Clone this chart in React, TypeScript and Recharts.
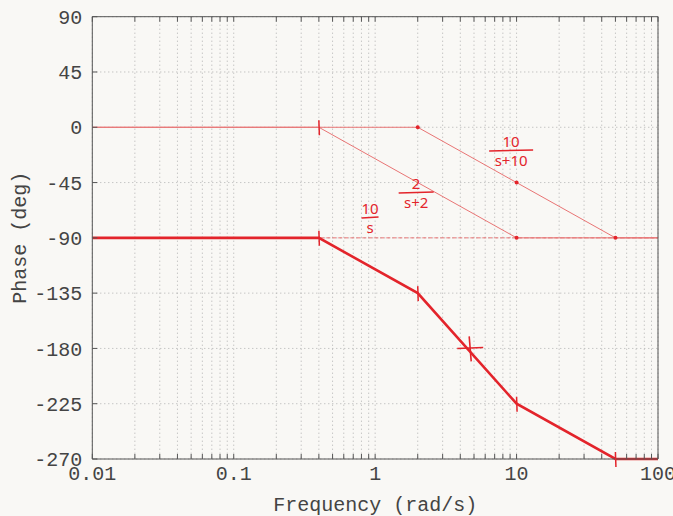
import React from 'react';
import { ComposedChart, Line, XAxis, YAxis, CartesianGrid, ReferenceDot } from 'recharts';

// ---- data ----
const freqTicks = [
  0.01, 0.02, 0.03, 0.04, 0.05, 0.06, 0.07, 0.08, 0.09,
  0.1, 0.2, 0.3, 0.4, 0.5, 0.6, 0.7, 0.8, 0.9,
  1, 2, 3, 4, 5, 6, 7, 8, 9,
  10, 20, 30, 40, 50, 60, 70, 80, 90,
  100,
];
const decadeLabels = ['0.01', '0.1', '1', '10', '100'];
const phaseTicks = [90, 45, 0, -45, -90, -135, -180, -225, -270];

const totalFreq = [0.01, 0.4, 2, 10, 50, 100];
const totalPhase = [-90, -90, -135, -225, -270, -270];

const pole2Freq = [0.01, 0.4, 10, 100];
const pole2Phase = [0, 0, -90, -90];

const pole10Freq = [0.01, 2, 50, 100];
const pole10Phase = [0, 0, -90, -90];

const integFreq = [0.01, 100];
const integPhase = [-90, -90];

const tickMarkFreq = [0.4, 0.4, 10, 50, 2];
const tickMarkPhase = [0, -90, -225, -270, -135];

const dotFreq = [10, 10, 50, 2];
const dotPhase = [-45, -90, -90, 0];

const crossFreq = [4.7];
const crossPhase = [-180];

const noteFreq = [0.92, 1.95, 9.15];
const notePhase = [-73.8, -53.5, -19.3];
const noteNum = ['10', '2', '10'];
const noteDen = ['s', 's+2', 's+10'];

// ---- styles ----
const RED = '#e3242b';
const THIN = '#e87474';
const AXIS = '#555';
const TEXT = '#444';
const FONT = "'Liberation Mono', 'DejaVu Sans Mono', monospace";

const rows = (fs: number[], ps: number[]) => fs.map((f, i) => ({ f, p: ps[i] }));

const tickFmt = (v: number) => {
  const s = String(v);
  return decadeLabels.includes(s) ? s : '';
};

const Fraction = (props: any) => {
  const { cx, cy, num, den } = props;
  if (cx == null || cy == null) return null;
  const w = den.length * 9 + 8;
  return (
    <g>
      <text x={cx} y={cy - 4} fill={RED} fontFamily="'Noto Sans'" fontSize={15} textAnchor="middle">
        {num}
      </text>
      <line x1={cx - w / 2} x2={cx + w / 2} y1={cy} y2={cy - 1} stroke={RED} strokeWidth={1.5} />
      <text x={cx} y={cy + 15} fill={RED} fontFamily="'Noto Sans'" fontSize={15} textAnchor="middle">
        {den}
      </text>
    </g>
  );
};

const VTick = (props: any) => {
  const { cx, cy } = props;
  if (cx == null || cy == null) return null;
  return <line x1={cx} x2={cx + 0.5} y1={cy - 7} y2={cy + 8} stroke={RED} strokeWidth={1.5} />;
};

const SmallDot = (props: any) => {
  const { cx, cy } = props;
  if (cx == null || cy == null) return null;
  return <circle cx={cx} cy={cy} r={2} fill={RED} />;
};

const Cross = (props: any) => {
  const { cx, cy } = props;
  if (cx == null || cy == null) return null;
  return (
    <g stroke={RED} strokeWidth={1.6}>
      <line x1={cx - 13} x2={cx + 13} y1={cy} y2={cy - 1} />
      <line x1={cx - 1} x2={cx + 1} y1={cy - 12} y2={cy + 13} />
    </g>
  );
};

export default function App() {
  return (
    <div style={{ width: 673, height: 516 }}>
      <style>{'body{margin:0;background:#f9f8f5;}'}</style>
      <ComposedChart
        width={673}
        height={516}
        margin={{ top: 15.7, right: 0, bottom: 27, left: 32.3 }}
      >
        <CartesianGrid stroke="#b0b0b0" strokeDasharray="1 3" />
        <XAxis
          dataKey="f"
          type="number"
          scale="log"
          domain={[0.01, 100]}
          allowDataOverflow
          ticks={freqTicks}
          tickFormatter={tickFmt}
          interval={0}
          height={30}
          tickSize={-5}
          tickMargin={12}
          stroke={AXIS}
          tick={{ fill: TEXT, fontFamily: FONT, fontSize: 20 }}
          label={{
            content: (p: any) => {
              const vb = p.viewBox || { x: 92, y: 459, width: 566 };
              return (
                <text
                  x={vb.x + vb.width / 2}
                  y={vb.y + 52}
                  fill={TEXT}
                  fontFamily={FONT}
                  fontSize={20}
                  textAnchor="middle"
                >
                  Frequency (rad/s)
                </text>
              );
            },
          }}
        />
        <XAxis
          xAxisId="t"
          dataKey="f"
          type="number"
          scale="log"
          orientation="top"
          domain={[0.01, 100]}
          allowDataOverflow
          ticks={freqTicks}
          tickFormatter={() => ''}
          interval={0}
          height={1}
          tickSize={-5}
          stroke={AXIS}
        />
        <YAxis
          dataKey="p"
          type="number"
          domain={[-270, 90]}
          ticks={phaseTicks}
          interval={0}
          width={60}
          tickSize={-5}
          tickMargin={15}
          stroke={AXIS}
          tick={{ fill: TEXT, fontFamily: FONT, fontSize: 20 }}
          label={{
            content: (p: any) => {
              const vb = p.viewBox || { x: 32, y: 17, width: 60, height: 442 };
              const cx = vb.x - 12;
              const cy = vb.y + vb.height / 2;
              return (
                <text
                  x={cx}
                  y={cy}
                  fill={TEXT}
                  fontFamily={FONT}
                  fontSize={20}
                  textAnchor="middle"
                  dominantBaseline="central"
                  transform={`rotate(-90, ${cx}, ${cy})`}
                >
                  Phase (deg)
                </text>
              );
            },
          }}
        />
        <YAxis
          yAxisId="r"
          orientation="right"
          type="number"
          domain={[-270, 90]}
          ticks={phaseTicks}
          interval={0}
          width={15}
          tickSize={-5}
          tickFormatter={() => ''}
          stroke={AXIS}
        />

        <Line data={rows(integFreq, integPhase)} dataKey="p" stroke={THIN} strokeWidth={1} strokeDasharray="4 2" dot={false} isAnimationActive={false} />
        <Line data={rows(pole2Freq, pole2Phase)} dataKey="p" stroke={THIN} strokeWidth={1} dot={false} isAnimationActive={false} />
        <Line data={rows(pole10Freq, pole10Phase)} dataKey="p" stroke={THIN} strokeWidth={1} dot={false} isAnimationActive={false} />
        <Line data={rows(totalFreq, totalPhase)} dataKey="p" stroke={RED} strokeWidth={2.6} dot={false} isAnimationActive={false} />

        {tickMarkFreq.map((f, i) => (
          <ReferenceDot key={'t' + i} x={f} y={tickMarkPhase[i]} r={0} ifOverflow="visible" shape={(p: any) => <VTick {...p} />} />
        ))}
        {dotFreq.map((f, i) => (
          <ReferenceDot key={'d' + i} x={f} y={dotPhase[i]} r={2} ifOverflow="visible" shape={(p: any) => <SmallDot {...p} />} />
        ))}
        {crossFreq.map((f, i) => (
          <ReferenceDot key={'c' + i} x={f} y={crossPhase[i]} r={0} ifOverflow="visible" shape={(p: any) => <Cross {...p} />} />
        ))}
        {noteFreq.map((f, i) => (
          <ReferenceDot
            key={'n' + i}
            x={f}
            y={notePhase[i]}
            r={0}
            ifOverflow="visible"
            shape={(p: any) => <Fraction {...p} num={noteNum[i]} den={noteDen[i]} />}
          />
        ))}
      </ComposedChart>
    </div>
  );
}
